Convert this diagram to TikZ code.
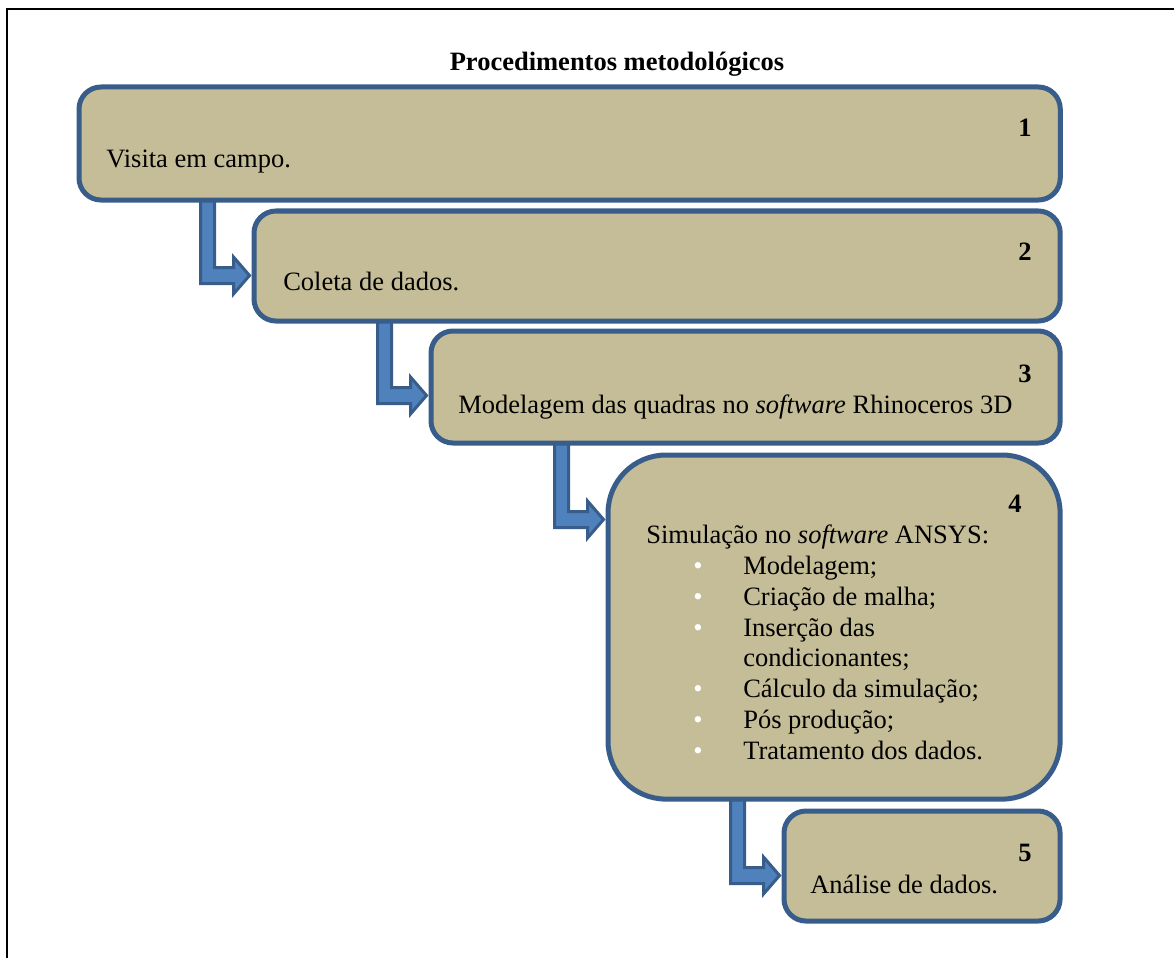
\documentclass[tikz,border=0pt]{standalone}
\usepackage{fontspec}
\setmainfont{Liberation Serif}
\usetikzlibrary{calc}

\definecolor{tan}{HTML}{C4BD97}
\definecolor{edge}{HTML}{385D8A}
\definecolor{pipe}{HTML}{4F81BD}
\newcommand{\smartfont}{\fontsize{18.85}{21.7}\selectfont}

% bent arrow from the bottom of box #1 to the left side of box #2
\newcommand{\bentarrow}[2]{%
  \coordinate (bend) at ($(#2.north west)+(-44,67)$);
  \coordinate (tip) at ($(bend -| #2.west)+(-2,0)$);
  \coordinate (root) at (bend |- #1.south);
  \draw[bent] ($(root)+(-7,-1.5)$) -- ($(root)+(7,-1.5)$) -- ($(bend)+(7,-8)$)
    -- ($(tip)+(-16,-8)$) -- ($(tip)+(-16,-18.5)$) -- (tip)
    -- ($(tip)+(-16,18.5)$) -- ($(tip)+(-16,8)$) -- ($(bend)+(-7,8)$) -- cycle;
}

\begin{document}
\begin{tikzpicture}[x=0.025cm, y=-0.025cm,
  box/.style={draw=edge, fill=tan, line width=0.125cm, rounded corners=0.55cm, anchor=north west},
  bent/.style={draw=edge, fill=pipe, line width=0.075cm},
  txt/.style={anchor=base west, inner sep=0pt, font=\smartfont},
  num/.style={anchor=base east, inner sep=0pt, font=\smartfont\bfseries},
  dot/.style={anchor=base, inner sep=0pt, text=white, font=\smartfont}]

\useasboundingbox (0,0) rectangle (1174,958);
\draw[line width=0.05cm] (7,958) -- (7,9) -- (1174,9);

\node[anchor=base, inner sep=0pt, font=\smartfont\bfseries] (title) at (617,71) {Procedimentos metodológicos};

% the five steps
\node[box, minimum width=24.525cm, minimum height=2.825cm] (b1) at (76.5,84.5) {};
\node[box, minimum width=20.15cm, minimum height=2.75cm] (b2) at (251.5,208.5) {};
\node[box, minimum width=15.725cm, minimum height=2.8cm] (b3) at (428.5,328.5) {};
\node[box, minimum width=11.3cm, minimum height=8.6cm, rounded corners=1.45cm] (b4) at (605.5,452.5) {};
\node[box, minimum width=6.9cm, minimum height=2.75cm] (b5) at (781.5,808.5) {};

\bentarrow{b1}{b2}
\bentarrow{b2}{b3}
\bentarrow{b3}{b4}
\bentarrow{b4}{b5}

\node[num] (n1) at (1032,137) {1};
\node[num] (n2) at (1032,260) {2};
\node[num] (n3) at (1032,382) {3};
\node[num] (n4) at (1022,512) {4};
\node[num] (n5) at (1032,861) {5};

\node[txt] (t1) at (106,168) {Visita em campo.};
\node[txt] (t2) at (283,290) {Coleta de dados.};
\node[txt] (t3) at (458,413) {Modelagem das quadras no \textit{software} Rhinoceros 3D};
\node[txt] (t4) at (646,543) {Simulação no \textit{software} ANSYS:};
\node[txt] (t5) at (743,574) {Modelagem;};
\node[txt] (t6) at (743,605) {Criação de malha;};
\node[txt] (t7) at (743,636) {Inserção das};
\node[txt] (t8) at (743,666) {condicionantes;};
\node[txt] (t9) at (743,697) {Cálculo da simulação;};
\node[txt] (t10) at (743,728) {Pós produção;};
\node[txt] (t11) at (743,759) {Tratamento dos dados.};
\node[txt] (t12) at (810,893) {Análise de dados.};

\node[dot] (d1) at (698,574) {•};
\node[dot] (d2) at (698,605) {•};
\node[dot] (d3) at (698,636) {•};
\node[dot] (d4) at (698,697) {•};
\node[dot] (d5) at (698,728) {•};
\node[dot] (d6) at (698,759) {•};
\end{tikzpicture}
\end{document}
